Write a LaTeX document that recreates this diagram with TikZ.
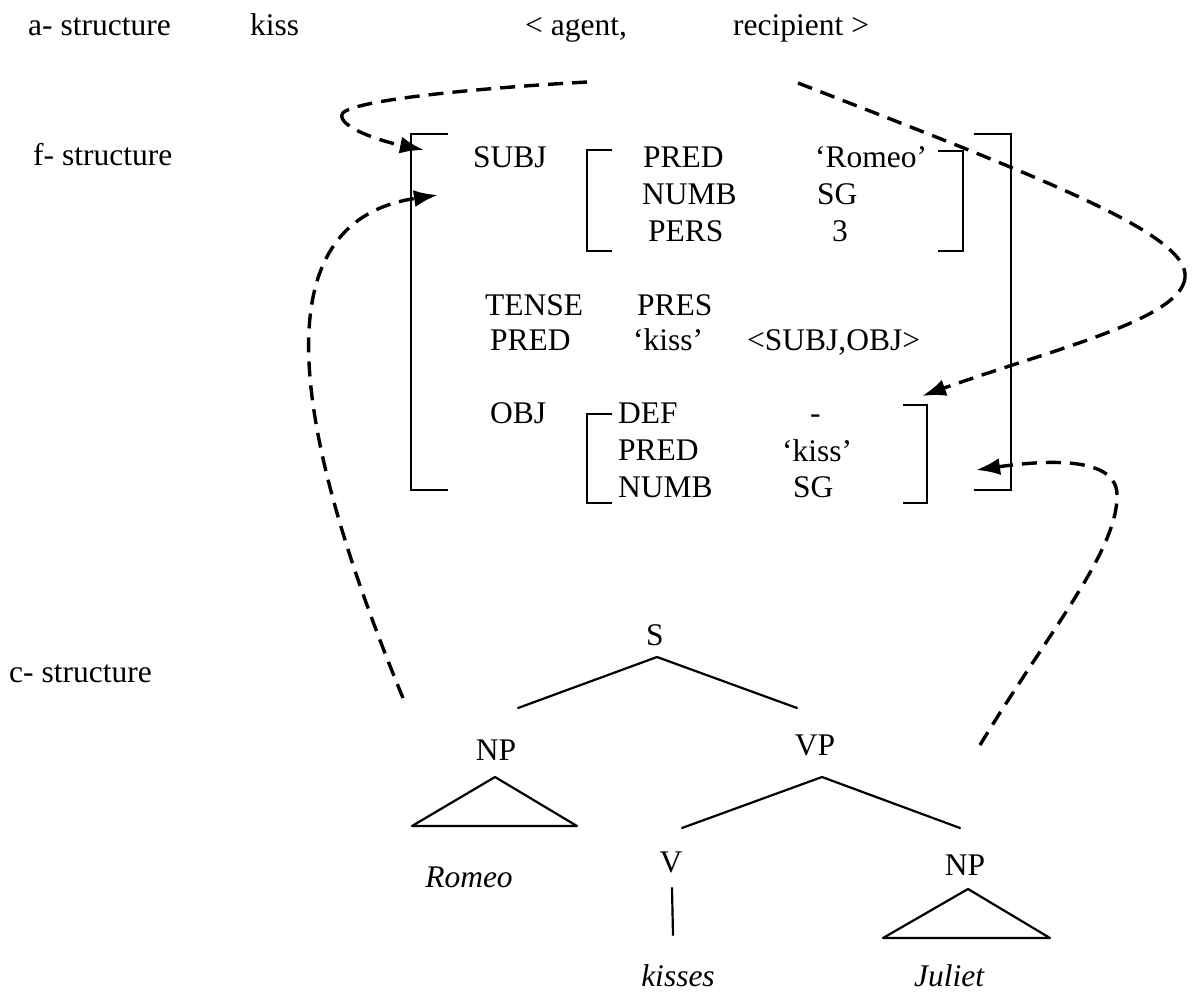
\documentclass[tikz,border=0pt]{standalone}
\usepackage{fontspec}
\setmainfont{Liberation Serif}
\usetikzlibrary{arrows.meta}
\begin{document}
\begin{tikzpicture}[x=1pt,y=-1pt,
  lbl/.style={anchor=base west,inner sep=0pt,font=\fontsize{31.5}{37}\selectfont},
  ctr/.style={anchor=base,inner sep=0pt,font=\fontsize{31.5}{37}\selectfont},
  word/.style={anchor=base,inner sep=0pt,font=\fontsize{31.5}{37}\selectfont\itshape},
  brack/.style={line width=2.4pt},
  branch/.style={line width=2.2pt,line cap=round,line join=round},
  link/.style={line width=3.4pt,dash pattern=on 15pt off 9pt,-{Latex[length=24pt,width=17pt]}},
  linkfree/.style={line width=3.4pt,dash pattern=on 15pt off 9pt}]
\useasboundingbox (0,0) rectangle (1195,996);

% level labels
\node[lbl] (alab) at (28,35) {a- structure};
\node[lbl] (flab) at (33,165) {f- structure};
\node[lbl] (clab) at (9,682) {c- structure};

% argument structure
\node[lbl] (apred) at (250,35) {kiss};
\node[lbl] (agent) at (525,35) {< agent,};
\node[lbl] (recip) at (733,35) {recipient >};

% f-structure: outer brackets
\draw[brack] (448,134) -- (411,134) -- (411,490) -- (448,490);
\draw[brack] (974,134) -- (1011,134) -- (1011,490) -- (974,490);

% SUBJ
\node[lbl] (subj) at (473,167) {SUBJ};
\draw[brack] (612,150) -- (587,150) -- (587,251) -- (612,251);
\draw[brack] (938,151) -- (963,151) -- (963,251) -- (938,251);
\node[lbl] (spred) at (643,167) {PRED};
\node[lbl] (snumb) at (642,204) {NUMB};
\node[lbl] (spers) at (648,241) {PERS};
\node[lbl] (sval1) at (815,167) {‘Romeo’};
\node[lbl] (sval2) at (817,204) {SG};
\node[lbl] (sval3) at (832,241) {3};

% TENSE and PRED
\node[lbl] (tense) at (485,315) {TENSE};
\node[lbl] (pres) at (637,315) {PRES};
\node[lbl] (pred) at (490,350) {PRED};
\node[lbl] (predv) at (633,350) {‘kiss’};
\node[lbl] (args) at (747,350) {<SUBJ,OBJ>};

% OBJ
\node[lbl] (obj) at (490,423) {OBJ};
\draw[brack] (612,414) -- (587,414) -- (587,503) -- (612,503);
\draw[brack] (903,405) -- (927,405) -- (927,503) -- (903,503);
\node[lbl] (odef) at (618,423) {DEF};
\node[lbl] (opred) at (618,460) {PRED};
\node[lbl] (onumb) at (618,497) {NUMB};
\node[lbl] (oval1) at (810,423) {-};
\node[lbl] (oval2) at (782,461) {‘kiss’};
\node[lbl] (oval3) at (793,497) {SG};

% c-structure tree
\node[ctr] (S) at (655,645) {S};
\node[ctr] (NPa) at (496,760) {NP};
\node[ctr] (VP) at (815,755) {VP};
\node[ctr] (V) at (671,872) {V};
\node[ctr] (NPb) at (965,875) {NP};
\node[word] (romeo) at (469,887) {Romeo};
\node[word] (kisses) at (678,986) {kisses};
\node[word] (juliet) at (949,986) {Juliet};

\coordinate (S-top) at (657,657);
\coordinate (S-l) at (518,708);
\coordinate (S-r) at (797,708);
\coordinate (NPa-top) at (495,777);
\coordinate (NPa-l) at (412,826);
\coordinate (NPa-r) at (577,826);
\coordinate (VP-top) at (822,777);
\coordinate (VP-l) at (682,828);
\coordinate (VP-r) at (960,828);
\coordinate (V-top) at (672,888);
\coordinate (V-bot) at (673,935);
\coordinate (NPb-top) at (968,889);
\coordinate (NPb-l) at (883,938);
\coordinate (NPb-r) at (1050,938);

\draw[branch] (S-l) -- (S-top) -- (S-r);
\draw[branch] (NPa-top) -- (NPa-l) -- (NPa-r) -- cycle;
\draw[branch] (VP-l) -- (VP-top) -- (VP-r);
\draw[branch] (V-top) -- (V-bot);
\draw[branch] (NPb-top) -- (NPb-l) -- (NPb-r) -- cycle;

% mapping links
\coordinate (agent-out) at (587,82);
\coordinate (agent-turn) at (342,114);
\coordinate (subj-in) at (424,150);
\coordinate (recip-out) at (798,83);
\coordinate (recip-turn) at (1185,278);
\coordinate (obj-in) at (922,396);
\coordinate (npa-out) at (403,698);
\coordinate (subj-in2) at (438,195);
\coordinate (npb-out) at (980,745);
\coordinate (npb-turn) at (1117,495);
\coordinate (obj-in2) at (976,470);

\draw[linkfree] (agent-out) .. controls (480,88) and (350,100) .. (agent-turn);
\draw[link] (agent-turn) .. controls (338,127) and (380,141) .. (subj-in);

\draw[linkfree] (recip-out) .. controls (1050,181) and (1190,235) .. (recip-turn);
\draw[link] (recip-turn) .. controls (1180,320) and (1050,350) .. (obj-in);

\draw[link] (npa-out) .. controls (280,400) and (270,220) .. (subj-in2);

\draw[linkfree] (npb-out) .. controls (1050,630) and (1118,550) .. (npb-turn);
\draw[link] (npb-turn) .. controls (1117,460) and (1060,458) .. (obj-in2);
\end{tikzpicture}
\end{document}
